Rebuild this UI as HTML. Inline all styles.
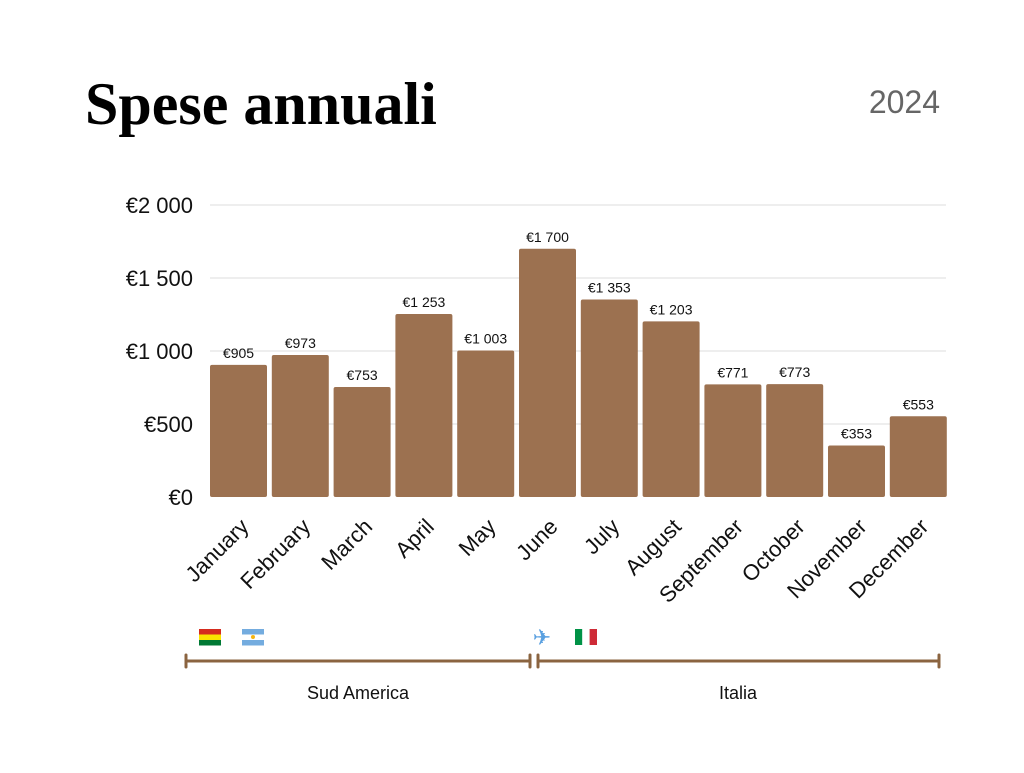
<!DOCTYPE html>
<html><head><meta charset="utf-8"><style>
body{margin:0;background:#fff;width:1024px;height:768px;overflow:hidden;font-family:"Liberation Sans","DejaVu Sans",sans-serif}
</style></head><body>
<svg width="1024" height="768">
<text x="85" y="124" font-family="Liberation Serif,serif" font-weight="bold" font-size="60" fill="#000">Spese annuali</text>
<text x="940" y="113" text-anchor="end" font-size="32" fill="#666">2024</text>
<g id="grid"></g><g id="bars"></g><g id="labels"></g>
<g stroke="#8b6440" stroke-width="3" stroke-linecap="round">
<line x1="186" y1="661" x2="530" y2="661"/><line x1="186" y1="655" x2="186" y2="667"/><line x1="530" y1="655" x2="530" y2="667"/>
<line x1="538" y1="661" x2="939" y2="661"/><line x1="538" y1="655" x2="538" y2="667"/><line x1="939" y1="655" x2="939" y2="667"/>
</g>
<text x="358" y="699" text-anchor="middle" font-size="18" fill="#111">Sud America</text>
<text x="738" y="699" text-anchor="middle" font-size="18" fill="#111">Italia</text>
<g><rect x="199" y="629" width="22" height="5.5" fill="#d52b1e"/><rect x="199" y="634.5" width="22" height="5.5" fill="#f9e300"/><rect x="199" y="640" width="22" height="5.5" fill="#007934"/></g>
<g><rect x="242" y="629" width="22" height="5.5" fill="#74acdf"/><rect x="242" y="634.5" width="22" height="5.5" fill="#fff"/><rect x="242" y="640" width="22" height="5.5" fill="#74acdf"/><circle cx="253" cy="637" r="2" fill="#f6b40e"/></g>
<text x="542" y="645" text-anchor="middle" font-size="22" fill="#5aa0e0">✈</text>
<g><rect x="575" y="629" width="7.3" height="16" fill="#009246"/><rect x="582.3" y="629" width="7.3" height="16" fill="#fff"/><rect x="589.6" y="629" width="7.4" height="16" fill="#ce2b37"/></g>
</svg>
<script>
const months=["January","February","March","April","May","June","July","August","September","October","November","December"];
const spend=[905,973,753,1253,1003,1700,1353,1203,771,773,353,553];
const ticks=[0,500,1000,1500,2000];
const ns="http://www.w3.org/2000/svg";
const y=v=>497-v*0.146;
const x=i=>210+i*61.8;
const fmt=v=>"€"+(v>=1000?Math.floor(v/1000)+" "+String(v%1000).padStart(3,"0"):v);
function mk(t,a,p){const e=document.createElementNS(ns,t);for(const k in a)e.setAttribute(k,a[k]);p.appendChild(e);return e;}
const g=document.getElementById("grid"),b=document.getElementById("bars"),l=document.getElementById("labels");
ticks.forEach(t=>{
 if(t>0){const ln=mk("line",{x1:210,x2:946,y1:y(t),y2:y(t),stroke:"#ddd","stroke-width":1},g);
 
 }
 const tx=mk("text",{x:193,y:y(t)+8,"text-anchor":"end","font-size":22,fill:"#111"},g);tx.textContent=fmt(t);
 
 
});
spend.forEach((v,i)=>{
 const r=mk("rect",{x:x(i),y:y(v),width:57,height:497-y(v),fill:"#9c7150",rx:2},b);
 
 
 const t=mk("text",{x:x(i)+28.5,y:y(v)-7,"text-anchor":"middle","font-size":14,fill:"#111"},l);t.textContent=fmt(v);
 
 
 const cx=x(i)+40,cy=528;
 const m=mk("text",{x:cx,y:cy,"text-anchor":"end","font-size":22,fill:"#111",transform:`rotate(-45 ${cx} ${cy})`},l);m.textContent=months[i];
 
 
});
</script>
</body></html>
